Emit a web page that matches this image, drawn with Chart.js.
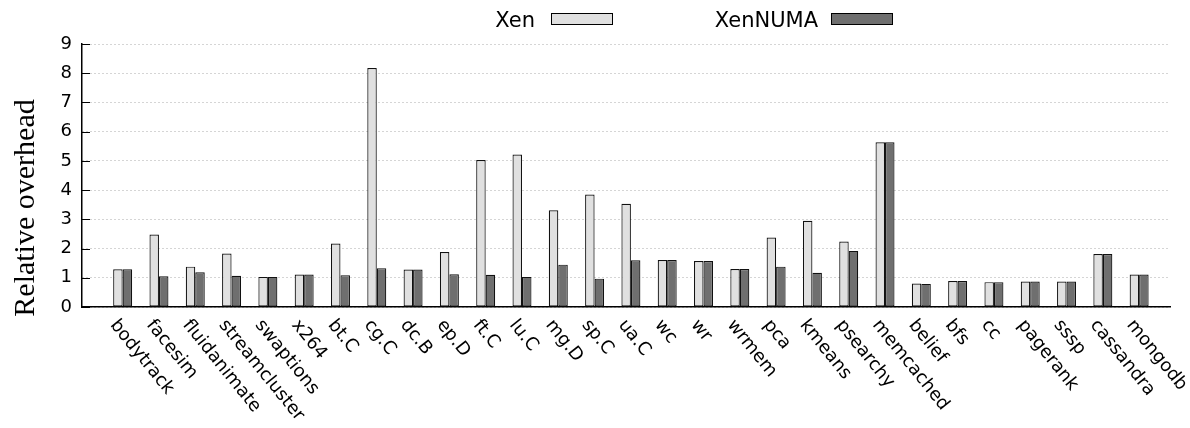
<!DOCTYPE html>
<html>
<head>
<meta charset="utf-8">
<script src="https://cdn.jsdelivr.net/npm/chart.js@4"></script>
<style>
  html, body { margin: 0; padding: 0; background: #fff; }
</style>
</head>
<body>
<canvas id="myChart" width="1190" height="428"></canvas>
<script>
const labels = ['bodytrack', 'facesim', 'fluidanimate', 'streamcluster', 'swaptions', 'x264',
  'bt.C', 'cg.C', 'dc.B', 'ep.D', 'ft.C', 'lu.C', 'mg.D', 'sp.C', 'ua.C',
  'wc', 'wr', 'wrmem', 'pca', 'kmeans', 'psearchy', 'memcached',
  'belief', 'bfs', 'cc', 'pagerank', 'sssp', 'cassandra', 'mongodb'];
const xen = [1.29, 2.48, 1.38, 1.83, 1.03, 1.11,
  2.17, 8.18, 1.28, 1.88, 5.03, 5.22, 3.31, 3.85, 3.53,
  1.61, 1.57, 1.30, 2.38, 2.95, 2.24, 5.64,
  0.80, 0.89, 0.85, 0.87, 0.87, 1.81, 1.11];
const xenNuma = [1.29, 1.05, 1.19, 1.07, 1.03, 1.11,
  1.09, 1.33, 1.28, 1.12, 1.10, 1.03, 1.45, 0.97, 1.60,
  1.61, 1.57, 1.30, 1.38, 1.17, 1.92, 5.64,
  0.79, 0.89, 0.85, 0.87, 0.87, 1.81, 1.11];
const yTicks = [0, 1, 2, 3, 4, 5, 6, 7, 8, 9];

const LIGHT = '#e0e0e0';
const DARK = '#6f6f6f';

// labels, inward y tics, y title and legend (gnuplot style)
const decor = {
  id: 'decor',
  afterDraw(chart) {
    const ctx = chart.ctx;
    const xs = chart.scales.x;
    const ys = chart.scales.y;
    const left = chart.chartArea.left;
    ctx.save();
    ctx.strokeStyle = '#000';
    ctx.lineWidth = 1;
    yTicks.forEach(v => {
      const py = Math.round(ys.getPixelForValue(v)) + 0.5;
      ctx.beginPath();
      ctx.moveTo(left, py);
      ctx.lineTo(left + 8, py);
      ctx.stroke();
    });

    ctx.fillStyle = '#000';
    ctx.font = '18px "DejaVu Sans"';
    ctx.textAlign = 'left';
    ctx.textBaseline = 'alphabetic';
    labels.forEach((lab, i) => {
      const px = xs.getPixelForValue(i);
      ctx.save();
      ctx.translate(px - 13, 325);
      ctx.rotate(51 * Math.PI / 180);
      ctx.fillText(lab, 0, 0);
      ctx.restore();
    });

    ctx.save();
    ctx.font = '30px "Liberation Serif"';
    ctx.textAlign = 'center';
    ctx.translate(34, 208);
    ctx.rotate(-Math.PI / 2);
    ctx.fillText('Relative overhead', 0, 0);
    ctx.restore();

    ctx.font = '21px "DejaVu Sans"';
    ctx.textAlign = 'right';
    const legend = [['Xen', LIGHT, 535, 551.5], ['XenNUMA', DARK, 818, 831.5]];
    legend.forEach(([t, c, tx, bx]) => {
      ctx.fillStyle = '#000';
      ctx.fillText(t, tx, 27);
      ctx.fillStyle = c;
      ctx.fillRect(bx, 13.5, 61, 11);
      ctx.strokeRect(bx, 13.5, 61, 11);
    });
    ctx.restore();
  }
};

const ctx = document.getElementById('myChart');
new Chart(ctx, {
  type: 'bar',
  data: {
    datasets: [
      {
        label: 'Xen',
        data: xen.map((v, i) => ({ x: i, y: v })),
        backgroundColor: LIGHT,
        borderColor: '#111',
        borderWidth: 1.2,
        borderSkipped: false
      },
      {
        label: 'XenNUMA',
        data: xenNuma.map((v, i) => ({ x: i, y: v })),
        backgroundColor: DARK,
        borderColor: '#111',
        borderWidth: 1.2,
        borderSkipped: false
      }
    ]
  },
  options: {
    responsive: false,
    animation: false,
    devicePixelRatio: 1,
    categoryPercentage: 0.523,
    barPercentage: 1.0,
    layout: { padding: { top: 44, right: 20, left: 0, bottom: 0 } },
    plugins: {
      legend: { display: false },
      tooltip: { enabled: false }
    },
    scales: {
      x: {
        type: 'linear',
        offset: false,
        min: -1.12,
        max: 28.85,
        grid: { display: false },
        border: { display: true, color: '#000', width: 1.5 },
        ticks: { display: false },
        afterBuildTicks: s => { s.ticks = labels.map((_, i) => ({ value: i })); },
        afterFit: s => { s.height = 121; }
      },
      y: {
        min: 0,
        max: 9,
        afterBuildTicks: s => { s.ticks = yTicks.map(v => ({ value: v })); },
        ticks: { color: '#000', font: { family: 'DejaVu Sans', size: 18 }, padding: 10 },
        grid: { color: '#aaa', drawTicks: false, lineWidth: 1 },
        border: { display: true, color: '#000', width: 1.5, dash: [1, 3] },
        afterFit: s => { s.width = 82; }
      }
    }
  },
  plugins: [decor]
});
</script>
</body>
</html>
